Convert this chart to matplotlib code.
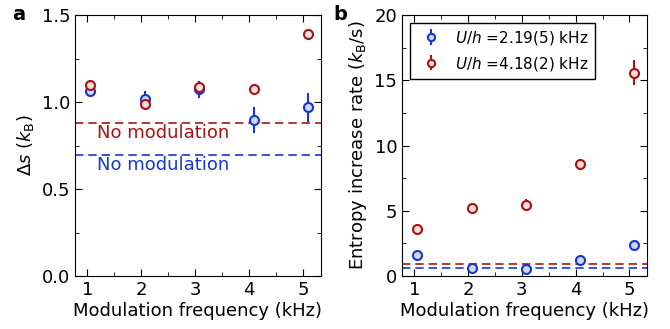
import numpy as np
import matplotlib
matplotlib.use('Agg')
import matplotlib.pyplot as plt
from matplotlib.ticker import MultipleLocator

plt.rcParams['font.family'] = ['DejaVu Sans']
plt.rcParams['mathtext.fontset'] = 'dejavusans'
plt.rcParams['font.size'] = 13

# modulation frequencies (kHz)
freq = [1.05, 2.07, 3.07, 4.08, 5.09]

# panel a: entropy increase ds (kB)
ds_low = [1.065, 1.015, 1.073, 0.897, 0.969]
ds_low_err = [0.02, 0.05, 0.05, 0.075, 0.085]
ds_high = [1.10, 0.99, 1.088, 1.078, 1.39]
ds_high_err = [0.015, 0.02, 0.02, 0.015, 0.015]
ds_ref_low = 0.693
ds_ref_high = 0.877

# panel b: entropy increase rate (kB/s)
rate_low = [1.58, 0.61, 0.56, 1.22, 2.39]
rate_low_err = [0.15, 0.12, 0.12, 0.15, 0.2]
rate_high = [3.64, 5.20, 5.45, 8.59, 15.6]
rate_high_err = [0.2, 0.2, 0.45, 0.35, 0.95]
rate_ref_low = 0.61
rate_ref_high = 0.89

labels = [r'$U/h$ =2.19(5) kHz', r'$U/h$ =4.18(2) kHz']

blue = '#1a35cc'
blue_face = '#cdd9f2'
red = '#a31515'
red_face = '#f3dcdd'


def points(ax, y, err, col, face, label=None):
    ax.errorbar(freq, y, yerr=err, fmt='o', color=col, mfc=face, mec=col,
                ms=6.5, mew=1.5, elinewidth=1.5, capsize=0, label=label)


def style(ax):
    ax.tick_params(which='both', direction='in', top=True, right=True)
    ax.tick_params(which='major', length=5)
    ax.tick_params(which='minor', length=3)
    ax.xaxis.set_minor_locator(MultipleLocator(0.5))
    ax.set_xlim(0.77, 5.33)
    ax.set_xticks([1, 2, 3, 4, 5])
    ax.set_xlabel('Modulation frequency (kHz)', labelpad=2)


fig = plt.figure(figsize=(6.7, 3.29), dpi=100)
ax1 = fig.add_axes([0.112, 0.161, 0.367, 0.793])
ax2 = fig.add_axes([0.600, 0.161, 0.366, 0.793])

# panel a
ax1.axhline(ds_ref_high, color=red, ls=(0, (5, 3)), lw=1.2)
ax1.axhline(ds_ref_low, color=blue, ls=(0, (5, 3)), lw=1.2)
points(ax1, ds_low, ds_low_err, blue, blue_face)
points(ax1, ds_high, ds_high_err, red, red_face)
ax1.text(1.18, 0.82, 'No modulation', color=red, va='center')
ax1.text(1.18, 0.638, 'No modulation', color=blue, va='center')
style(ax1)
ax1.set_ylim(0, 1.5)
ax1.yaxis.set_major_locator(MultipleLocator(0.5))
ax1.yaxis.set_minor_locator(MultipleLocator(0.25))
ax1.set_ylabel(r'$\Delta s$ ($k_\mathrm{B}$)')

# panel b
ax2.axhline(rate_ref_high, color=red, ls=(0, (5, 3)), lw=1.2)
ax2.axhline(rate_ref_low, color=blue, ls=(0, (5, 3)), lw=1.2)
points(ax2, rate_low, rate_low_err, blue, blue_face, labels[0])
points(ax2, rate_high, rate_high_err, red, red_face, labels[1])
style(ax2)
ax2.set_ylim(0, 20)
ax2.yaxis.set_major_locator(MultipleLocator(5))
ax2.yaxis.set_minor_locator(MultipleLocator(2.5))
ax2.set_ylabel(r'Entropy increase rate ($k_\mathrm{B}$/s)')
leg = ax2.legend(loc='upper left', fontsize=11, fancybox=False, framealpha=1,
                 edgecolor='black', handletextpad=0.6, borderpad=0.4,
                 markerscale=0.8)
leg.get_frame().set_linewidth(1.0)

fig.text(0.018, 0.985, 'a', fontweight='bold', fontsize=14, va='top')
fig.text(0.497, 0.985, 'b', fontweight='bold', fontsize=14, va='top')

fig.savefig('out.png', dpi=100)
